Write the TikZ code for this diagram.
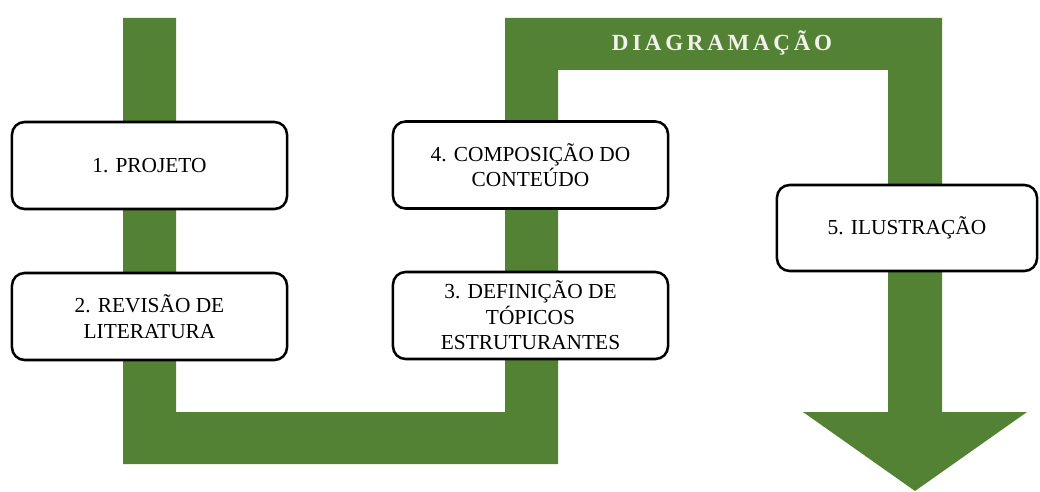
\documentclass[tikz,border=0pt]{standalone}
\usepackage{fontspec}
\setmainfont{Liberation Serif}
\newfontfamily\spacedfont[LetterSpace=16]{Liberation Serif}
\usepackage{xcolor}
\usetikzlibrary{calc}
\definecolor{band}{HTML}{548235}
\definecolor{title}{HTML}{F2F2EC}
\tikzset{
  stage/.style={draw=black, fill=white, line width=1.8pt, rounded corners=9pt,
    minimum width=6.875cm, minimum height=2.175cm, align=center,
    font=\fontsize{15.2}{18.2}\selectfont},
  flow/.style={fill=band, draw=none},
  head/.style={text=title, font=\spacedfont\bfseries\fontsize{16.4}{18}\selectfont},
}

\begin{document}
\begin{tikzpicture}[x=0.025cm, y=-0.025cm]
  \useasboundingbox (0,0) rectangle (1040,492);

  \fill[flow] (123,18) -- (176,18) -- (176,412) -- (505,412) -- (505,18)
    -- (942,18) -- (942,412) -- (1027,412) -- (915,491) -- (803,412)
    -- (888,412) -- (888,70) -- (558,70) -- (558,464) -- (123,464) -- cycle;

  \node[head] (diag) at (722,43) {DIAGRAMAÇÃO};

  \node[stage] (proj) at (149.5,165.5) {1. PROJETO};
  \node[stage] (rev) at (149.5,316.5) {2. REVISÃO DE\\LITERATURA};
  \node[stage] (top) at (530.5,315.5) {3. DEFINIÇÃO DE\\TÓPICOS\\ESTRUTURANTES};
  \node[stage] (comp) at (530.5,165) {4. COMPOSIÇÃO DO\\CONTEÚDO};
  \node[stage, minimum width=6.5cm, minimum height=2.15cm] (ilus) at (907,228) {5. ILUSTRAÇÃO};
\end{tikzpicture}
\end{document}
